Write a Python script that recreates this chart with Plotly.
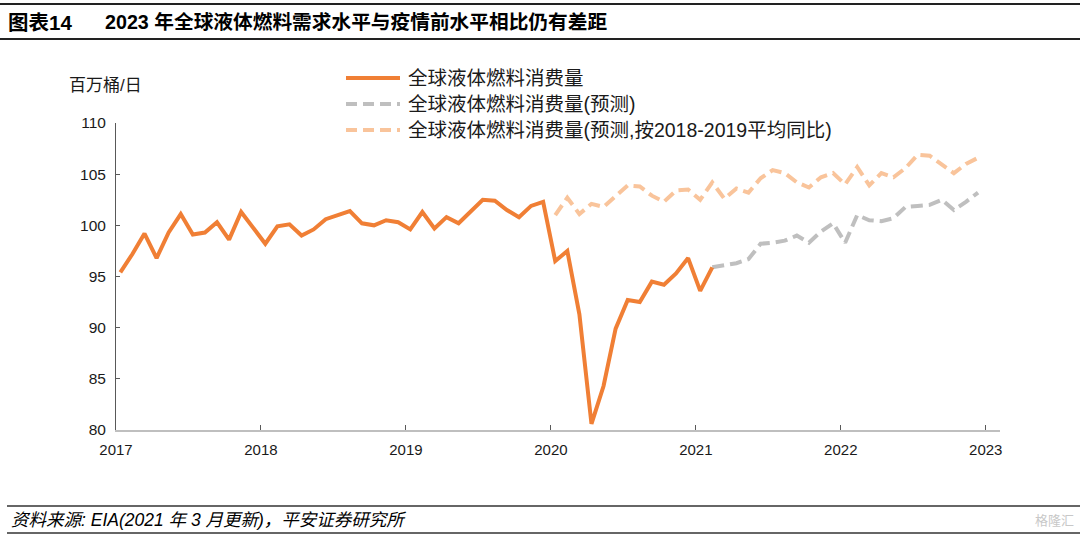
import plotly.graph_objects as go

# ---------------- data ----------------
years = ["2017", "2018", "2019", "2020", "2021", "2022", "2023"]

actual = [
    95.4, 97.2, 99.2, 96.8, 99.3, 101.1, 99.1, 99.3, 100.3, 98.6, 101.3, 99.8,      # 2017
    98.2, 99.9, 100.1, 99.0, 99.6, 100.6, 101.0, 101.4, 100.2, 100.0, 100.5, 100.3,  # 2018
    99.6, 101.3, 99.7, 100.8, 100.2, 101.3, 102.5, 102.4, 101.5, 100.8, 101.9, 102.3,  # 2019
    96.5, 97.5, 91.3, 80.6, 84.3, 89.9, 92.7, 92.5, 94.5, 94.2, 95.3, 96.8,         # 2020
    93.6, 95.9,                                                                       # 2021 Jan-Feb
]
forecast = [
    95.9, 96.1, 96.3, 96.7, 98.2, 98.3, 98.5, 99.0, 98.3, 99.4, 100.2,               # 2021 Feb-Dec
    98.3, 101.0, 100.5, 100.4, 100.7, 101.8, 101.9, 102.0, 102.5, 101.5, 102.3, 103.2,  # 2022
]
forecast_avg = [
    101.0, 102.7, 101.1, 102.1, 101.8, 102.8, 103.9, 103.8, 102.9, 102.3, 103.4, 103.5,  # 2020
    102.5, 104.2, 102.6, 103.6, 103.2, 104.6, 105.4, 105.1, 104.2, 103.7, 104.7, 105.1,  # 2021
    104.0, 105.7, 103.9, 105.1, 104.7, 105.6, 106.9, 106.8, 105.9, 105.1, 106.0, 106.6,  # 2022
]

names = ["全球液体燃料消费量", "全球液体燃料消费量(预测)", "全球液体燃料消费量(预测,按2018-2019平均同比)"]
colors = ["#F07F35", "#BFBFBF", "#F9C49B"]

x_actual = list(range(0, len(actual)))
x_forecast = list(range(len(actual) - 1, len(actual) - 1 + len(forecast)))
x_avg = list(range(36, 36 + len(forecast_avg)))

# ---------------- layout geometry (pixels) ----------------
W, H = 1080, 540
L, R, T, B = 116, 1000, 123, 430
TICK_OFFSET = -0.36
FONT = "Arial, Liberation Sans, Noto Sans CJK SC, sans-serif"
DASH = "12px,6px"


def px(x):
    return (x - L) / (R - L)


def py(y):
    return (B - y) / (B - T)


fig = go.Figure()
fig.add_trace(go.Scatter(x=x_avg, y=forecast_avg, mode="lines", name=names[2],
                         line=dict(color=colors[2], width=4, dash=DASH), showlegend=False))
fig.add_trace(go.Scatter(x=x_forecast, y=forecast, mode="lines", name=names[1],
                         line=dict(color=colors[1], width=4, dash=DASH), showlegend=False))
fig.add_trace(go.Scatter(x=x_actual, y=actual, mode="lines", name=names[0],
                         line=dict(color=colors[0], width=4), showlegend=False))

shapes = []
annotations = []

# manual legend
leg_y = [78, 104, 130]
leg_styles = [dict(color=colors[0], width=4), dict(color=colors[1], width=4, dash="11px,6px"),
              dict(color=colors[2], width=4, dash="11px,6px")]
for yy, nm, st in zip(leg_y, names, leg_styles):
    shapes.append(dict(type="line", xref="paper", yref="paper", x0=px(346), x1=px(400),
                       y0=py(yy), y1=py(yy), line=st))
    annotations.append(dict(xref="paper", yref="paper", x=px(406), y=py(yy), text=nm,
                            showarrow=False, xanchor="left", yanchor="middle",
                            font=dict(size=19.5, color="#1a1a1a", family=FONT)))

# unit label
annotations.append(dict(xref="paper", yref="paper", x=px(67), y=py(86), text="百万桶/日",
                        showarrow=False, xanchor="left", yanchor="middle",
                        font=dict(size=17, color="#1a1a1a", family=FONT)))

# title
annotations.append(dict(xref="paper", yref="paper", x=px(6), y=py(22), text="<b>图表14</b>",
                        showarrow=False, xanchor="left", yanchor="middle",
                        font=dict(size=20.5, color="#000000", family=FONT)))
annotations.append(dict(xref="paper", yref="paper", x=px(103), y=py(22),
                        text="<b>2023 年全球液体燃料需求水平与疫情前水平相比仍有差距</b>",
                        showarrow=False, xanchor="left", yanchor="middle",
                        font=dict(size=19.7, color="#000000", family=FONT)))
for yy, w in [(4, 2), (39, 2)]:
    shapes.append(dict(type="line", xref="paper", yref="paper", x0=px(0), x1=px(1080),
                       y0=py(yy), y1=py(yy), line=dict(color="#222222", width=w)))

# footer
annotations.append(dict(xref="paper", yref="paper", x=px(9), y=py(520),
                        text="<i>资料来源: EIA(2021 年 3 月更新)，平安证券研究所</i>",
                        showarrow=False, xanchor="left", yanchor="middle",
                        font=dict(size=17.5, color="#000000", family=FONT)))
annotations.append(dict(xref="paper", yref="paper", x=px(1076), y=py(520),
                        text="格隆汇", showarrow=False, xanchor="right", yanchor="middle",
                        font=dict(size=13, color="#c8c8c8", family=FONT)))
for yy in [506, 533]:
    shapes.append(dict(type="line", xref="paper", yref="paper", x0=px(7), x1=px(1080),
                       y0=py(yy), y1=py(yy), line=dict(color="#333333", width=1.5)))

tickvals = [12 * k + TICK_OFFSET for k in range(len(years))]

fig.update_layout(
    width=W, height=H,
    margin=dict(l=L, r=W - R, t=T, b=H - B, pad=0),
    paper_bgcolor="white", plot_bgcolor="white",
    font=dict(family=FONT, size=15, color="#1a1a1a"),
    shapes=shapes, annotations=annotations,
    showlegend=False,
    xaxis=dict(range=[TICK_OFFSET, TICK_OFFSET + (R - L) / 12.08], tickvals=tickvals, ticktext=years,
               showgrid=False, zeroline=False, showline=True, linecolor="#BFBFBF", linewidth=2,
               ticks="inside", ticklen=5, tickcolor="#595959", tickwidth=1,
               ticklabelstandoff=5,
               tickfont=dict(size=15, color="#1a1a1a", family=FONT)),
    yaxis=dict(range=[80, 110], tickvals=[80, 85, 90, 95, 100, 105, 110],
               showgrid=False, zeroline=False, showline=True, linecolor="#595959", linewidth=1,
               ticks="inside", ticklen=4, tickcolor="#595959", tickwidth=1,
               ticklabelstandoff=6,
               tickfont=dict(size=15.5, color="#1a1a1a", family=FONT)),
)

fig.write_html("out.html", config={"displayModeBar": False},
               post_script="document.body.style.margin='0';document.body.style.overflow='hidden';")
